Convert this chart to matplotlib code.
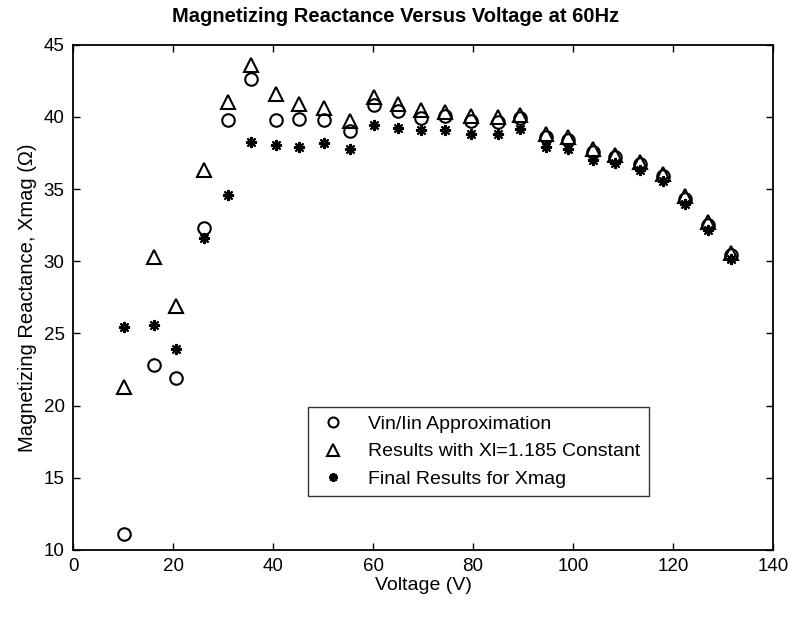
"""
Magnetizing reactance versus voltage at 60 Hz
"""

# %%
# Imports
import matplotlib

matplotlib.use("Agg")
import matplotlib.pyplot as plt

plt.rcParams["font.family"] = ["Liberation Sans", "DejaVu Sans"]

# %%
# Data
voltage = [10.2, 16.1, 20.5, 26.1, 30.9, 35.6, 40.5, 45.1, 50.2, 55.3,
           60.2, 64.9, 69.6, 74.4, 79.5, 84.9, 89.4, 94.6, 98.9, 103.9,
           108.4, 113.4, 117.9, 122.4, 126.9, 131.6]

vin_iin = [11.1, 22.8, 21.9, 32.3, 39.8, 42.6, 39.8, 39.85, 39.8, 39.05,
           40.8, 40.4, 39.95, 40.1, 39.75, 39.65, 39.95, 38.6, 38.4, 37.55,
           37.2, 36.75, 35.9, 34.3, 32.55, 30.45]

xl_const = [21.3, 30.3, 26.9, 36.3, 41.05, 43.6, 41.6, 40.9, 40.65, 39.75,
            41.4, 40.9, 40.5, 40.35, 40.1, 40.0, 40.15, 38.85, 38.6, 37.75,
            37.4, 36.85, 36.05, 34.5, 32.7, 30.6]

final_xmag = [25.45, 25.6, 23.95, 31.6, 34.6, 38.3, 38.05, 37.95, 38.2, 37.75,
              39.45, 39.25, 39.1, 39.1, 38.8, 38.8, 39.15, 37.95, 37.8, 37.0,
              36.8, 36.35, 35.55, 33.95, 32.2, 30.15]

labels = ["Vin/Iin Approximation",
          "Results with Xl=1.185 Constant",
          "Final Results for Xmag"]

# %%
# Plot in the style of an old MATLAB figure
fig = plt.figure(figsize=(7.91, 6.35), dpi=100)
ax = fig.add_axes([0.0923, 0.1339, 0.8850, 0.7955])

marker_style = dict(linestyle="none", color="black", markeredgewidth=1.5)
ax.plot(voltage, vin_iin, marker="o", markersize=9, markerfacecolor="none",
        label=labels[0], **marker_style)
ax.plot(voltage, xl_const, marker="^", markersize=10, markerfacecolor="none",
        label=labels[1], **marker_style)
ax.plot(voltage, final_xmag, marker=(8, 2, 0), markersize=8,
        label=labels[2], **marker_style)

ax.set_xlim(0, 140)
ax.set_ylim(10, 45)
ax.set_xticks(range(0, 141, 20))
ax.set_yticks(range(10, 46, 5))
ax.tick_params(direction="in", top=True, right=True, length=5,
               labelsize=13.5, width=1, pad=6)
for spine in ax.spines.values():
    spine.set_linewidth(1.3)

ax.set_xlabel("Voltage (V)", fontsize=14, labelpad=1)
ax.set_ylabel("Magnetizing Reactance, Xmag (\u03a9)", fontsize=14.5, labelpad=5)
fig.text(0.5, 1 - 17 / 635, "Magnetizing Reactance Versus Voltage at 60Hz",
         ha="center", va="center", fontsize=14.5, fontweight="bold")

leg = ax.legend(loc="lower left", bbox_to_anchor=(0.336, 0.106),
                fontsize=14, frameon=True, fancybox=False, edgecolor="black",
                borderpad=0.45, labelspacing=0.5, handlelength=1.6,
                handletextpad=1.0, markerscale=0.8, borderaxespad=0)
leg.get_frame().set_linewidth(1.0)

fig.savefig("out.png", dpi=100)
